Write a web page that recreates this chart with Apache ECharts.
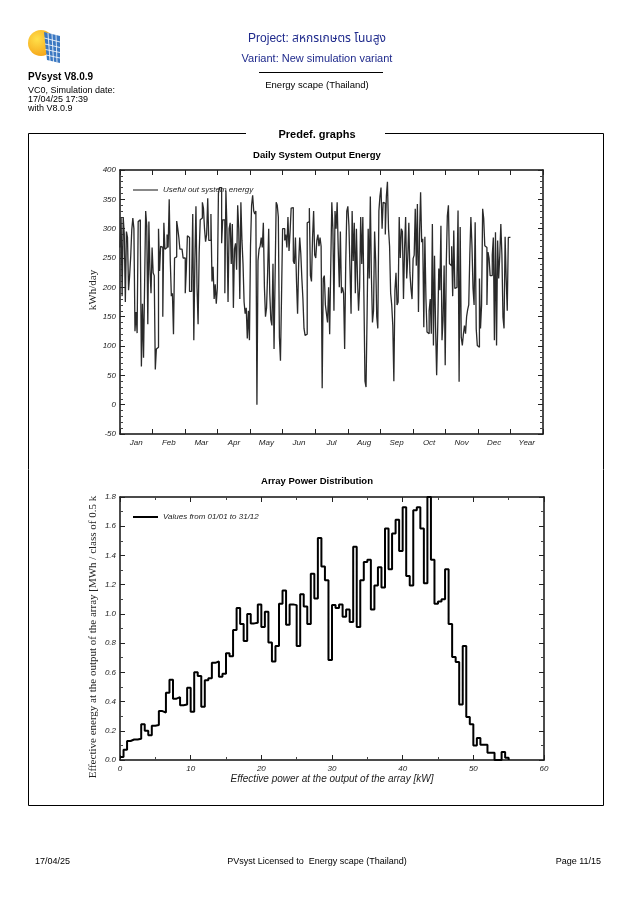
<!DOCTYPE html>
<html><head><meta charset="utf-8">
<script src="https://cdn.jsdelivr.net/npm/echarts@6/dist/echarts.min.js"></script>
<style>html,body{margin:0;padding:0;background:#fff}#c{width:633px;height:898px}</style>
</head><body><div id="c"></div>
<script>
// ---- Daily System Output Energy (kWh/day), one value per day ----
const months = ['Jan','Feb','Mar','Apr','May','Jun','Jul','Aug','Sep','Oct','Nov','Dec','Year'];
const jan = [268,320,185,320,290,175,295,285,195,220,252,298,318,300,125,158,122,312,315,283,65,172,80,205,330,305,137,312,230,190,268];
const feb = [225,220,60,95,98,300,228,270,268,150,310,265,268,290,268,350,245,185,190,120,250,252,313,300,285,265,265,265];
const mar = [250,250,190,230,288,285,193,193,210,325,110,245,338,200,137,258,315,318,345,335,300,278,290,352,280,280,325,210,235,180,205];
const apr = [172,200,360,370,370,275,315,315,190,365,300,175,300,310,240,308,165,265,275,230,340,300,180,345,280,240,175,155,165,113];
const may = [160,110,270,340,357,330,325,330,0,245,265,270,285,268,310,200,150,165,225,300,190,145,135,240,95,220,345,340,320,115,75];
const jun = [185,300,300,280,290,268,320,262,295,335,336,245,240,285,210,155,240,285,258,215,180,130,118,120,310,312,335,220,210,285];
const jul = [330,255,250,280,290,270,285,270,28,215,220,170,155,140,200,120,235,345,300,160,330,300,345,265,200,295,190,200,190,95,240];
const aug = [330,338,305,230,155,330,245,310,190,300,215,160,200,320,240,320,185,40,30,155,300,215,355,220,140,160,295,245,150,130,330];
const sep = [355,370,300,345,343,290,355,380,300,270,190,170,135,40,195,225,170,175,320,250,300,295,180,265,320,215,250,310,225,198];
const oct = [180,249,255,334,237,342,158,290,362,277,283,132,286,180,124,121,160,180,121,308,101,254,132,50,132,232,195,305,110,145,237];
const nov = [67,240,322,340,240,237,270,185,297,198,200,215,331,39,303,115,101,120,135,121,150,162,170,255,320,272,198,170,311,129];
const dec = [101,98,215,130,170,334,317,271,268,170,260,250,220,220,255,285,110,294,101,280,215,254,308,255,149,130,286,215,160,285,285];

// ---- Array Power Distribution: energy per 0.5 kW class (MWh), classes from 0 kW ----
const binWidth = 0.5;
const powerBins = [
 0.02,0.07,0.13,0.14,0.14,0.145,0.245,0.2,0.17,0.235,
 0.24,0.335,0.325,0.46,0.55,0.42,0.43,0.375,0.38,0.495,
 0.33,0.60,0.575,0.365,0.545,0.56,0.665,0.675,0.57,0.59,
 0.73,0.71,0.89,1.04,0.93,0.815,1.0,0.935,0.94,1.065,
 0.91,1.015,0.805,0.675,0.78,1.07,1.16,0.925,1.065,1.06,
 0.78,1.135,1.05,0.93,1.275,1.105,1.52,1.325,1.23,0.685,
 1.06,1.04,1.065,0.98,1.03,0.945,1.46,0.91,1.23,1.355,
 1.37,1.03,1.195,1.32,1.18,1.585,1.305,1.55,1.645,1.43,
 1.73,1.26,1.195,1.71,1.73,1.585,1.21,1.80,1.37,1.07,
 1.085,1.1,1.305,0.93,0.705,0.67,0.38,0.78,0.295,0.245,
 0.1,0.15,0.105,0.105,0.05,0.05,0,0,0.055,0.015
];
const yTicksTop = {min:-50, max:400, interval:50};
const yTicksBottom = {min:0, max:1.8, interval:0.2};
const xTicksBottom = {min:0, max:60, interval:10};

const daily = [].concat(jan,feb,mar,apr,may,jun,jul,aug,sep,oct,nov,dec);
const nDays = daily.length;
const dailyData = daily.map((v,i)=>[i*12/nDays, v]);
dailyData.push([12, daily[nDays-1]]);
const histData = powerBins.map((v,i)=>[i*binWidth, v]);
histData.push([powerBins.length*binWidth, 0]);

const FONT = '"Liberation Sans", Arial, sans-serif';
const SERIF = '"Liberation Serif", "Times New Roman", serif';
const lblStyle = {fontFamily:FONT, fontStyle:'italic', fontSize:8, color:'#222'};
const axLine = {show:true, onZero:false, lineStyle:{color:'#111', width:1.5}};
const tickIn = {show:true, inside:true, length:5, lineStyle:{color:'#222', width:1}};
const minorIn = n => ({show:true, splitNumber:n, length:3, lineStyle:{color:'#444', width:1}});

const chart = echarts.init(document.getElementById('c'), null, {renderer:'canvas'});

function txt(x,y,text,opt,rot){
  const el = {type:'text', x:x, y:y, z:10, style:Object.assign({text:text, fontFamily:FONT, fontSize:9, fill:'#000', align:'left', verticalAlign:'middle'}, opt||{})};
  if (rot) el.rotation = rot;
  return el;
}
const W = {stroke:'#fff', lineWidth:0.8};
const logo = {type:'group', x:0, y:0, children:[
  {type:'circle', shape:{cx:41, cy:43, r:13}, style:{fill:new echarts.graphic.RadialGradient(0.35,0.35,0.8,[{offset:0,color:'#ffe04a'},{offset:1,color:'#f39c12'}])}},
  {type:'polygon', shape:{points:[[44,32],[60,36],[60,63],[47,60]]}, style:{fill:'#3b78c2'}},
  {type:'polyline', shape:{points:[[48,33],[50,61]]}, style:W},
  {type:'polyline', shape:{points:[[52,34],[53.5,62]]}, style:W},
  {type:'polyline', shape:{points:[[56,35],[57,62.5]]}, style:W},
  {type:'polyline', shape:{points:[[44.3,38],[60,42]]}, style:W},
  {type:'polyline', shape:{points:[[45,44],[60,47.5]]}, style:W},
  {type:'polyline', shape:{points:[[45.5,49.5],[60,52.5]]}, style:W},
  {type:'polyline', shape:{points:[[46,55],[60,58]]}, style:W}
]};

const option = {
  animation:false,
  backgroundColor:'#fff',
  textStyle:{fontFamily:FONT},
  graphic:[
    logo,
    txt(28,77,'PVsyst V8.0.9',{fontWeight:'bold', fontSize:10}),
    txt(28,91,'VC0, Simulation date:',{fontSize:9}),
    txt(28,100,'17/04/25 17:39',{fontSize:9}),
    txt(28,109,'with V8.0.9',{fontSize:9}),
    txt(317,39,'Project: สหกรเกษตร โนนสูง',{align:'center', fontSize:12, fill:'#1f2a8c', fontFamily:FONT+', "Noto Sans Thai", "Noto Sans", sans-serif'}),
    txt(317,59,'Variant: New simulation variant',{align:'center', fontSize:11, fill:'#1f2a8c'}),
    {type:'line', shape:{x1:259,y1:72.5,x2:383,y2:72.5}, style:{stroke:'#000', lineWidth:1}},
    txt(317,85,'Energy scape (Thailand)',{align:'center', fontSize:9.5}),
    {type:'rect', shape:{x:28.5,y:133.5,width:575,height:672}, style:{fill:null, stroke:'#000', lineWidth:1}},
    {type:'rect', shape:{x:246,y:128,width:139,height:12}, style:{fill:'#fff'}, z:5},
    txt(317,135,'Predef. graphs',{align:'center', fontSize:11, fontWeight:'bold'}),
    txt(317,155,'Daily System Output Energy',{align:'center', fontSize:9.5, fontWeight:'bold'}),
    txt(93,290,'kWh/day',{align:'center', fontSize:11, fontFamily:SERIF, fill:'#222'}, Math.PI/2),
    txt(317,481,'Array Power Distribution',{align:'center', fontSize:9.5, fontWeight:'bold'}),
    txt(332,779,'Effective power at the output of the array [kW]',{align:'center', fontSize:10, fontStyle:'italic', fill:'#222'}),
    txt(93,637,'Effective energy at the output of the array [MWh / class of 0.5 k',{align:'center', fontSize:11, fontFamily:SERIF, fill:'#222'}, Math.PI/2),
    txt(35,862,'17/04/25',{fontSize:9}),
    txt(317,862,'PVsyst Licensed to  Energy scape (Thailand)',{align:'center', fontSize:9}),
    txt(601,862,'Page 11/15',{align:'right', fontSize:9})
  ],
  grid:[
    {left:120, top:170, width:423, height:264, containLabel:false},
    {left:120, top:497, width:424, height:263, containLabel:false}
  ],
  legend:[
    {left:128, top:181, itemWidth:25, itemHeight:2, selectedMode:false,
     data:[{name:'Useful out system energy', icon:'rect', itemStyle:{color:'#888'}}],
     textStyle:{fontFamily:FONT, fontStyle:'italic', fontSize:8, color:'#222'}},
    {left:128, top:508, itemWidth:25, itemHeight:2, selectedMode:false,
     data:[{name:'Values from 01/01 to 31/12', icon:'rect', itemStyle:{color:'#000'}}],
     textStyle:{fontFamily:FONT, fontStyle:'italic', fontSize:8, color:'#222'}}
  ],
  xAxis:[
    {type:'category', gridIndex:0, position:'bottom', data:months, boundaryGap:true,
     axisLine:axLine, axisTick:tickIn, axisLabel:Object.assign({interval:0, margin:5}, lblStyle), splitLine:{show:false}},
    {type:'category', gridIndex:0, position:'top', data:months, boundaryGap:true,
     axisLine:axLine, axisTick:tickIn, axisLabel:{show:false}, splitLine:{show:false}},
    {type:'value', gridIndex:0, min:0, max:13, show:false, splitLine:{show:false}},
    {type:'value', gridIndex:1, position:'bottom', min:xTicksBottom.min, max:xTicksBottom.max, interval:xTicksBottom.interval,
     axisLine:axLine, axisTick:tickIn, minorTick:minorIn(2), axisLabel:Object.assign({margin:5}, lblStyle), splitLine:{show:false}},
    {type:'value', gridIndex:1, position:'top', min:xTicksBottom.min, max:xTicksBottom.max, interval:xTicksBottom.interval,
     axisLine:axLine, axisTick:tickIn, minorTick:minorIn(2), axisLabel:{show:false}, splitLine:{show:false}}
  ],
  yAxis:[
    {type:'value', gridIndex:0, position:'left', min:yTicksTop.min, max:yTicksTop.max, interval:yTicksTop.interval,
     axisLine:axLine, axisTick:tickIn, minorTick:minorIn(5), axisLabel:Object.assign({margin:4}, lblStyle), splitLine:{show:false}},
    {type:'value', gridIndex:0, position:'right', min:yTicksTop.min, max:yTicksTop.max, interval:yTicksTop.interval,
     axisLine:axLine, axisTick:tickIn, minorTick:minorIn(5), axisLabel:{show:false}, splitLine:{show:false}},
    {type:'value', gridIndex:1, position:'left', min:yTicksBottom.min, max:yTicksBottom.max, interval:yTicksBottom.interval,
     axisLine:axLine, axisTick:tickIn, minorTick:minorIn(2), axisLabel:Object.assign({margin:4, formatter:v=>v.toFixed(1)}, lblStyle), splitLine:{show:false}},
    {type:'value', gridIndex:1, position:'right', min:yTicksBottom.min, max:yTicksBottom.max, interval:yTicksBottom.interval,
     axisLine:axLine, axisTick:tickIn, minorTick:minorIn(2), axisLabel:{show:false}, splitLine:{show:false}}
  ],
  series:[
    {name:'Useful out system energy', type:'line', xAxisIndex:2, yAxisIndex:0, data:dailyData, step:'end',
     symbol:'none', clip:true, lineStyle:{color:'#2a2a2a', width:1.3}, itemStyle:{color:'#888'}},
    {name:'Values from 01/01 to 31/12', type:'line', xAxisIndex:3, yAxisIndex:2, data:histData, step:'end',
     symbol:'none', clip:true, lineStyle:{color:'#000', width:2}, itemStyle:{color:'#000'}}
  ]
};
chart.setOption(option);
</script></body></html>
